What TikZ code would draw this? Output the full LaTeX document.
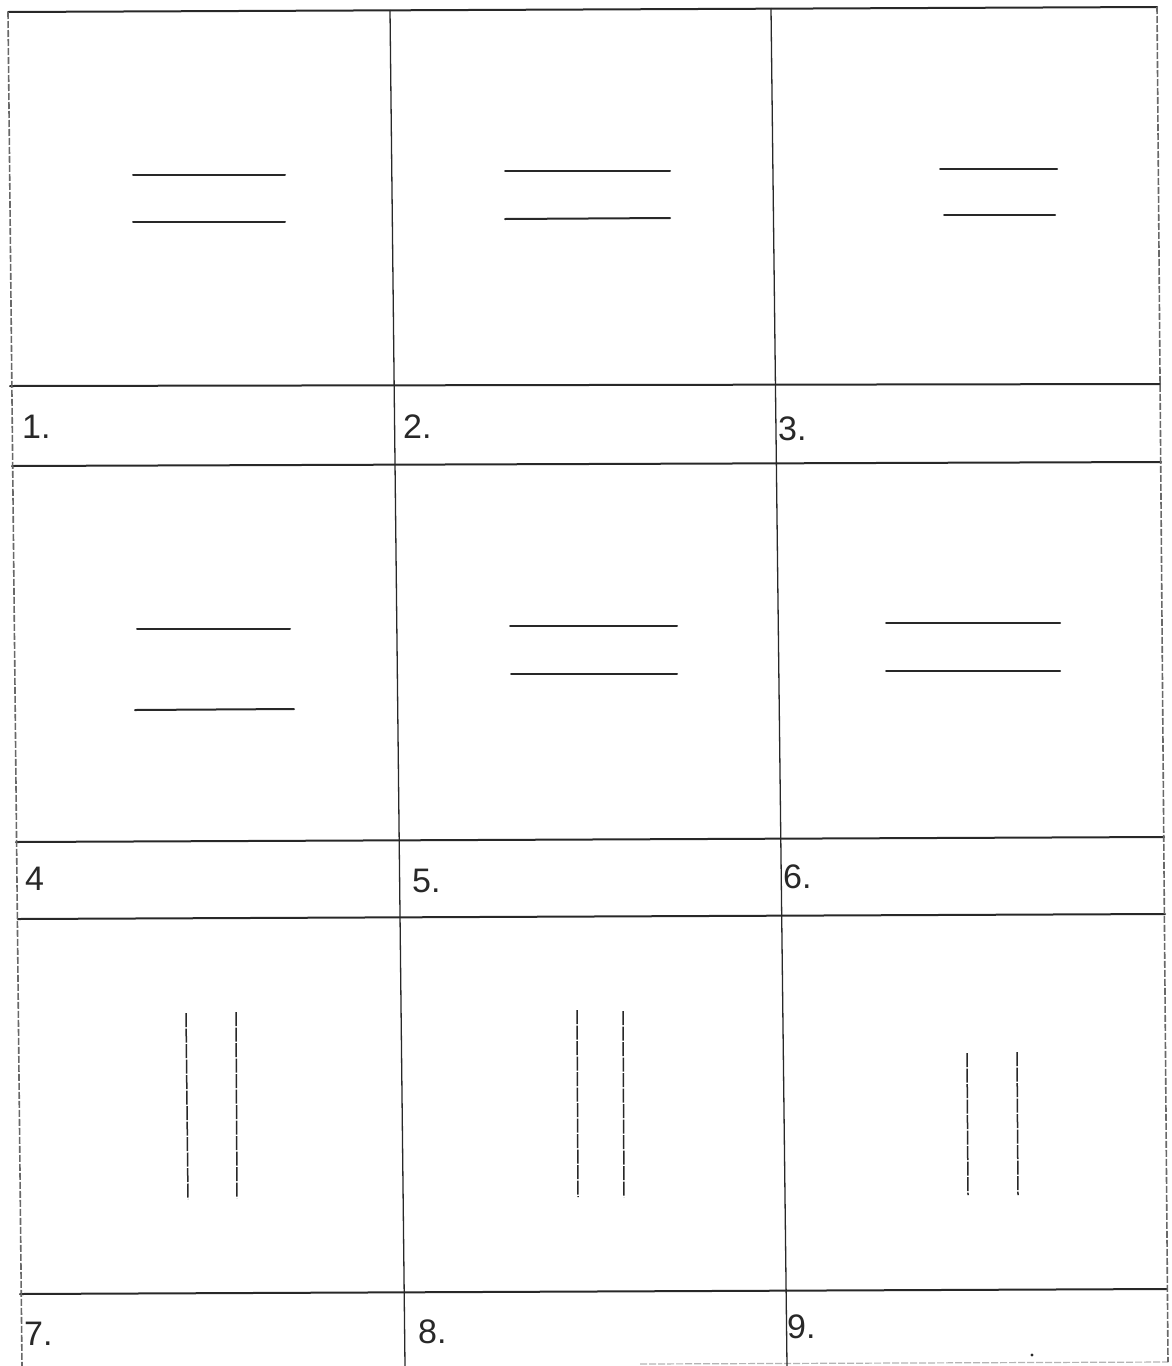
\documentclass[tikz,border=0pt]{standalone}
\usepackage{fontspec}
\setmainfont{Liberation Sans}
\usepackage{tikz}
\usetikzlibrary{positioning}
\definecolor{pencil}{RGB}{40,40,40}

\begin{document}
\begin{tikzpicture}[
  x=1pt, y=-1pt,
  gridline/.style={draw=pencil, line width=2pt, line cap=round},
  edgeline/.style={draw=pencil!70, line width=1.6pt, dash pattern=on 7pt off 2pt},
  midline/.style={draw=pencil, line width=1.3pt},
  penline/.style={draw=pencil, line width=2pt, line cap=round},
  vpenline/.style={draw=pencil, line width=1.5pt, dash pattern=on 14pt off 1.5pt},
  numlabel/.style={anchor=base west, inner sep=0pt, font=\fontsize{34}{34}\selectfont, text=pencil},
]
\useasboundingbox[fill=white] (0,0) rectangle (1171,1366);

% ── grid ─────────────────────────────────────────────────────
\draw[gridline] (8,12) -- (1157,7);
\draw[gridline] (10,386) -- (1160,384);
\draw[gridline] (12,466) -- (1161,462);
\draw[gridline] (16,842) -- (1164,837);
\draw[gridline] (18,919) -- (1165,914);
\draw[gridline] (20,1294) -- (1167,1289);
\draw[edgeline, draw=pencil!35, line width=1.2pt] (640,1364) -- (1168,1362);

\draw[edgeline] (8,12) -- (22,1366);
\draw[edgeline] (1157,7) -- (1168,1362);
\draw[midline] (390,10) -- (405,1366);
\draw[midline] (771,8) -- (787,1366);

% ── row 1 ────────────────────────────────────────────────────
\draw[penline] (133,175) -- (285,175);
\draw[penline] (133,222) -- (285,222);
\draw[penline] (505,171) -- (670,171);
\draw[penline] (505,219) -- (670,218);
\draw[penline] (940,169) -- (1057,169);
\draw[penline] (944,215) -- (1055,215);

\node[numlabel] (n1) at (22,438) {1.};
\node[numlabel] (n2) at (403,438) {2.};
\node[numlabel] (n3) at (778,440) {3.};

% ── row 2 ────────────────────────────────────────────────────
\draw[penline] (137,629) -- (290,629);
\draw[penline] (135,710) -- (294,709);
\draw[penline] (510,626) -- (677,626);
\draw[penline] (511,674) -- (677,674);
\draw[penline] (886,623) -- (1060,623);
\draw[penline] (886,671) -- (1060,671);

\node[numlabel] (n4) at (25,890) {4};
\node[numlabel] (n5) at (412,892) {5.};
\node[numlabel] (n6) at (783,888) {6.};

% ── row 3 ────────────────────────────────────────────────────
\draw[vpenline] (186,1013) -- (188,1199);
\draw[vpenline] (236,1012) -- (237,1198);
\draw[vpenline] (577,1010) -- (578,1197);
\draw[vpenline] (623,1011) -- (624,1197);
\draw[vpenline] (967,1053) -- (968,1195);
\draw[vpenline] (1017,1052) -- (1018,1195);

\node[numlabel] (n7) at (24,1345) {7.};
\node[numlabel] (n8) at (418,1343) {8.};
\node[numlabel] (n9) at (787,1338) {9.};
\fill[pencil] (1032,1355) circle (1.6pt);

\end{tikzpicture}
\end{document}
